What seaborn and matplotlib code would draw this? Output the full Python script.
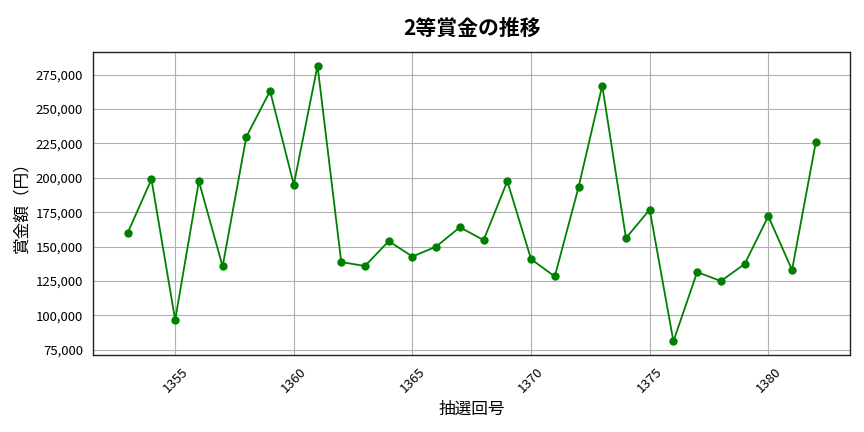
import matplotlib
matplotlib.use('Agg')
import matplotlib.pyplot as plt
import matplotlib.ticker as mticker
import seaborn as sns
import pandas as pd

draws = list(range(1353, 1383))
prizes = [160000, 198900, 96700, 197500, 135600, 229800, 263100, 195000, 281500, 138800,
          135900, 154000, 142800, 150000, 164100, 154700, 197500, 140900, 128300, 193100,
          267000, 156200, 176900, 81200, 131500, 125000, 137300, 172100, 133000, 225700]

sns.set_style('whitegrid')
plt.rcParams['font.family'] = ['Noto Sans CJK JP', 'DejaVu Sans']

df = pd.DataFrame({'draw': draws, 'prize': prizes})

fig, ax = plt.subplots(figsize=(8.64, 4.32), dpi=100)
fig.subplots_adjust(left=0.108, right=0.984, bottom=0.178, top=0.880)

sns.lineplot(data=df, x='draw', y='prize', color='green', marker='o',
             markersize=6, markeredgewidth=0, linewidth=1.3, ax=ax)

ax.set_title('2等賞金の推移', fontsize=15, fontweight='bold', pad=12, color='black')
ax.set_xlabel('抽選回号', fontsize=12, labelpad=4, color='black')
ax.set_ylabel('賞金額（円）', fontsize=12, color='black')
ax.xaxis.set_major_locator(mticker.MultipleLocator(5))
ax.yaxis.set_major_formatter(mticker.FuncFormatter(lambda v, p: f'{int(v):,}'))
ax.tick_params(axis='x', rotation=45, labelsize=9.5, length=4, color='#333333', labelcolor='black')
ax.tick_params(axis='y', labelsize=9.5, length=4, color='#333333', labelcolor='black')
ax.grid(True, color='#b0b0b0', linewidth=0.8)
for s in ax.spines.values():
    s.set_color('#222222')
    s.set_linewidth(1.0)

fig.savefig('out.png', dpi=100)
